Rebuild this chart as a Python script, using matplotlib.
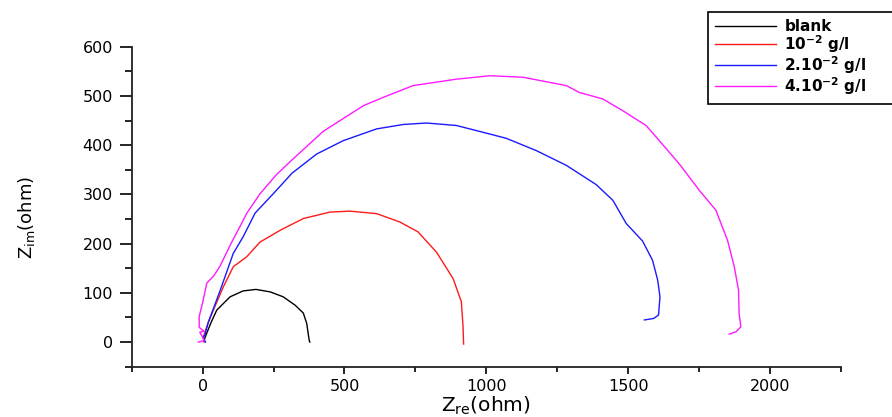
import matplotlib
matplotlib.use("Agg")
import matplotlib.pyplot as plt
from matplotlib.ticker import MultipleLocator

plt.rcParams['font.family'] = ['DejaVu Sans']
plt.rcParams['mathtext.default'] = 'regular'

labels = ["blank", "10$^{-2}$ g/l", "2.10$^{-2}$ g/l", "4.10$^{-2}$ g/l"]
colors = ["black", "#ff1a1a", "#1a1aff", "#ff1aff"]

blank_x = [5, 9, 30, 50, 97, 143, 188, 238, 284, 326, 355, 367, 372, 376, 378]
blank_y = [2, 10, 40, 65, 92, 104, 107, 102, 92, 75, 59, 38, 18, 3, 0]

red_x = [5, 3, 20, 38, 73, 108, 155, 202, 273, 355, 449, 519, 613, 695, 759, 824, 883, 912, 918, 920]
red_y = [0, 11, 40, 65, 112, 153, 173, 203, 227, 251, 264, 266, 261, 244, 224, 183, 129, 82, 31, -4]

blue_x = [10, 2, 8, 20, 62, 108, 144, 185, 255, 315, 402, 495, 613, 707, 789, 894, 976, 1070, 1176,
          1282, 1387, 1446, 1493, 1551, 1586, 1604, 1612, 1607, 1590, 1557]
blue_y = [0, 10, 14, 40, 105, 180, 215, 262, 305, 343, 382, 409, 433, 442, 445, 440, 428, 414, 389,
          359, 320, 288, 241, 205, 166, 126, 92, 55, 48, 45]

mag_x = [-15, 5, 0, -10, 5, -12, -12, 0, 15, 40, 62, 100, 132, 156, 202, 260, 315, 425, 566, 636, 742, 894,
         1012, 1129, 1282, 1328, 1410, 1481, 1563, 1610, 1680, 1751, 1809, 1850, 1874, 1889, 1891, 1897,
         1880, 1856]
mag_y = [0, 3, 10, 20, 22, 30, 52, 80, 120, 135, 155, 200, 235, 262, 301, 340, 370, 428, 480, 497, 521, 534,
         541, 538, 521, 507, 494, 470, 440, 409, 362, 308, 268, 207, 153, 105, 58, 31, 21, 16]

series = [(blank_x, blank_y), (red_x, red_y), (blue_x, blue_y), (mag_x, mag_y)]

fig = plt.figure(figsize=(8.92, 4.17), dpi=100)
ax = fig.add_axes([0.1476, 0.1206, 0.9428 - 0.1476, 0.888 - 0.1206])

handles = []
for (xs, ys), c, lab in zip(series, colors, labels):
    h, = ax.plot(xs, ys, color=c, lw=1.0, label=lab)
    handles.append(h)

ax.set_xlim(-250, 2250)
ax.set_ylim(-50, 600)
ax.xaxis.set_major_locator(MultipleLocator(500))
ax.xaxis.set_minor_locator(MultipleLocator(250))
ax.yaxis.set_major_locator(MultipleLocator(100))
ax.yaxis.set_minor_locator(MultipleLocator(50))

for s in ['top', 'right']:
    ax.spines[s].set_visible(False)
for s in ['left', 'bottom']:
    ax.spines[s].set_linewidth(1.3)
    ax.spines[s].set_color('#222222')

ax.tick_params(axis='y', which='major', direction='out', length=8.5, width=1.2, labelsize=11.5, pad=5)
ax.tick_params(axis='y', which='minor', direction='out', length=5, width=1.2)
ax.tick_params(axis='x', which='major', direction='out', length=5, width=1.2, labelsize=11.5, pad=4)
ax.tick_params(axis='x', which='minor', direction='out', length=3.5, width=1.2)

ax.set_xlabel("Z$_{re}$(ohm)", fontsize=14.5, labelpad=0)
ax.set_ylabel("Z$_{im}$(ohm)", fontsize=13)
ax.yaxis.set_label_coords((37 - 131.7) / (841 - 131.7), (367 - 218) / (367 - 46.7))

leg = fig.legend(handles=handles, labels=labels, loc='upper left',
                 bbox_to_anchor=(708 / 892, 1 - 12 / 417, (905 - 708) / 892, 0.0),
                 mode='expand', fancybox=False, framealpha=1,
                 edgecolor='black', prop={'size': 11, 'weight': 'bold'},
                 handlelength=4.0, handletextpad=0.55, labelspacing=-0.05, borderpad=0.45,
                 borderaxespad=0)
leg.get_frame().set_linewidth(1.2)

fig.savefig("out.png", dpi=100)
